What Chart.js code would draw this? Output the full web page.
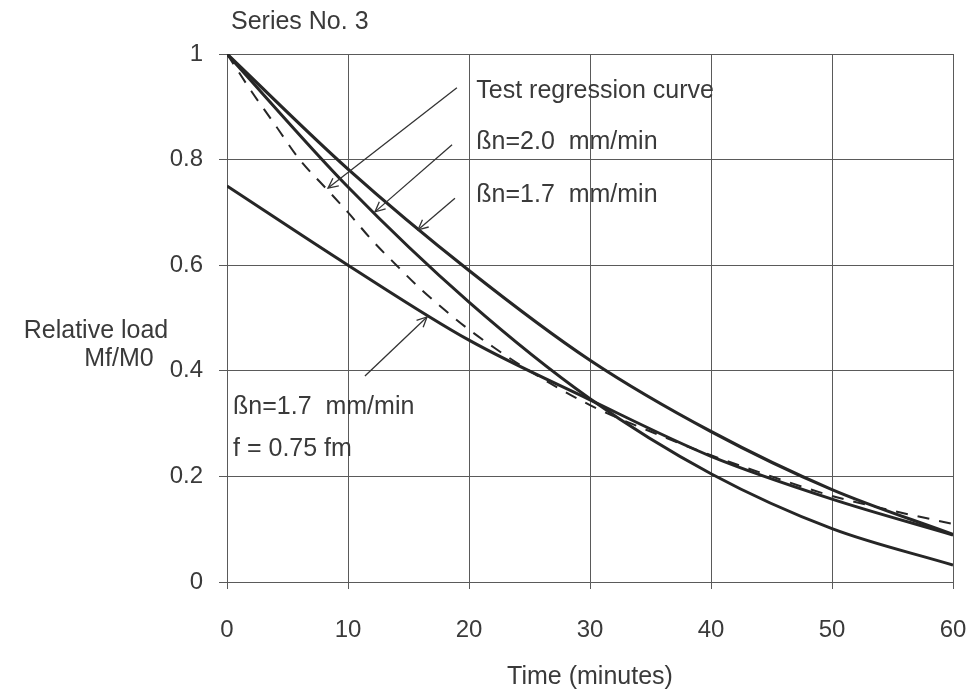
<!DOCTYPE html>
<html><head><meta charset="utf-8">
<script src="https://cdn.jsdelivr.net/npm/chart.js@4/dist/chart.umd.min.js"></script>
<style>html,body{margin:0;padding:0;background:#fff;}#wrap{width:973px;height:693px;position:relative;}</style>
</head><body><div id="wrap"><canvas id="c" width="973" height="693"></canvas></div>
<script>
// ---- data ----
const curveTime = [0, 10, 20, 30, 40, 50, 60];
const beta17 = [1.0, 0.782, 0.59, 0.42, 0.285, 0.175, 0.09];      // βn=1.7 mm/min
const beta20 = [1.0, 0.748, 0.53, 0.347, 0.205, 0.101, 0.032];    // βn=2.0 mm/min
const beta17f075 = [0.75, 0.60, 0.458, 0.345, 0.238, 0.157, 0.089]; // βn=1.7, f=0.75 fm
const testTime = [0, 2, 4, 6, 8, 10, 12, 14, 16, 18, 20, 22, 25, 30, 35, 40, 45, 50, 55, 60];
const testRegression = [1.0, 0.93, 0.865, 0.80, 0.75, 0.70, 0.647, 0.60, 0.555, 0.515, 0.478, 0.445, 0.40, 0.335, 0.285, 0.24, 0.20, 0.163, 0.135, 0.11];
const xTickValues = [0, 10, 20, 30, 40, 50, 60];
const yTickValues = [0, 0.2, 0.4, 0.6, 0.8, 1];
const chartTitle = 'Series No. 3';
const xTitle = 'Time (minutes)';
const yTitle = ['Relative load', 'Mf/M0'];
// annotation labels (data coordinates) and arrows [fromT, fromV, toT, toV]
const noteTexts = ['Test regression curve', 'ßn=2.0  mm/min', 'ßn=1.7  mm/min', 'ßn=1.7  mm/min', 'f = 0.75 fm'];
const noteT = [20.6, 20.6, 20.6, 0.5, 0.5];
const noteV = [0.930, 0.833, 0.733, 0.331, 0.252];
const arrowFrom = [[19.0, 0.936], [18.6, 0.828], [18.84, 0.727], [11.4, 0.390]];
const arrowTo = [[8.35, 0.746], [12.23, 0.701], [15.79, 0.667], [16.53, 0.502]];

const FONT = "'Liberation Sans', Arial, sans-serif";
const TXT = '#3a3a3a';
const LINE = '#262626';
const GRID = '#5a5a5a';

const pts = (xs, ys) => xs.map((x, i) => ({x: x, y: ys[i]}));

const annot = {
  id: 'annot',
  afterDraw(chart) {
    const ctx = chart.ctx, xs = chart.scales.x, ys = chart.scales.y, ca = chart.chartArea;
    ctx.save();
    ctx.fillStyle = TXT;
    ctx.font = '25px ' + FONT;
    ctx.textBaseline = 'middle';
    ctx.textAlign = 'left';
    ctx.fillText(chartTitle, ca.left + 4, ca.top - 32);
    ctx.textAlign = 'center';
    ctx.fillText(yTitle[0], 96, ys.getPixelForValue(0.5) + 13);
    ctx.fillText(yTitle[1], 119, ys.getPixelForValue(0.5) + 41);
    ctx.fillText(xTitle, (ca.left + ca.right) / 2, ca.bottom + 95);
    ctx.textAlign = 'left';
    noteTexts.forEach((t, i) => ctx.fillText(t, xs.getPixelForValue(noteT[i]), ys.getPixelForValue(noteV[i])));
    ctx.strokeStyle = '#333';
    ctx.lineWidth = 1.3;
    arrowFrom.forEach((f, i) => {
      const x1 = xs.getPixelForValue(f[0]), y1 = ys.getPixelForValue(f[1]);
      const x2 = xs.getPixelForValue(arrowTo[i][0]), y2 = ys.getPixelForValue(arrowTo[i][1]);
      ctx.beginPath(); ctx.moveTo(x1, y1); ctx.lineTo(x2, y2); ctx.stroke();
      const a = Math.atan2(y2 - y1, x2 - x1), L = 11, w = 0.45;
      ctx.beginPath();
      ctx.moveTo(x2 - L * Math.cos(a - w), y2 - L * Math.sin(a - w));
      ctx.lineTo(x2, y2);
      ctx.lineTo(x2 - L * Math.cos(a + w), y2 - L * Math.sin(a + w));
      ctx.stroke();
    });
    ctx.restore();
  }
};

const common = {pointRadius: 0, borderColor: LINE, fill: false, cubicInterpolationMode: 'monotone'};

new Chart(document.getElementById('c'), {
  type: 'line',
  data: {
    datasets: [
      Object.assign({label: 'ßn=1.7 mm/min', data: pts(curveTime, beta17), borderWidth: 3.2}, common),
      Object.assign({label: 'ßn=2.0 mm/min', data: pts(curveTime, beta20), borderWidth: 3}, common),
      Object.assign({label: 'ßn=1.7 mm/min, f = 0.75 fm', data: pts(curveTime, beta17f075), borderWidth: 3}, common),
      Object.assign({label: 'Test regression curve', data: pts(testTime, testRegression), borderWidth: 2, borderDash: [12, 10]}, common)
    ]
  },
  options: {
    responsive: false,
    animation: false,
    layout: {padding: {left: 0, right: 20, top: 54, bottom: 0}},
    plugins: {legend: {display: false}, tooltip: {enabled: false}},
    scales: {
      x: {
        type: 'linear', min: 0, max: 60,
        afterBuildTicks: s => { s.ticks = xTickValues.map(v => ({value: v})); },
        afterFit: s => { s.height = 111; s.paddingLeft = 0; s.paddingRight = 0; },
        ticks: {color: TXT, font: {family: FONT, size: 24}, padding: 27, maxRotation: 0},
        grid: {color: GRID, lineWidth: 1, tickLength: 7},
        border: {color: GRID}
      },
      y: {
        type: 'linear', min: 0, max: 1,
        afterBuildTicks: s => { s.ticks = yTickValues.map(v => ({value: v})); },
        afterFit: s => { s.width = 227; s.paddingTop = 0; s.paddingBottom = 0; },
        ticks: {color: TXT, font: {family: FONT, size: 24}, padding: 16, callback: v => String(+v.toFixed(1))},
        grid: {color: GRID, lineWidth: 1, tickLength: 8},
        border: {color: GRID}
      }
    }
  },
  plugins: [annot]
});
</script></body></html>
